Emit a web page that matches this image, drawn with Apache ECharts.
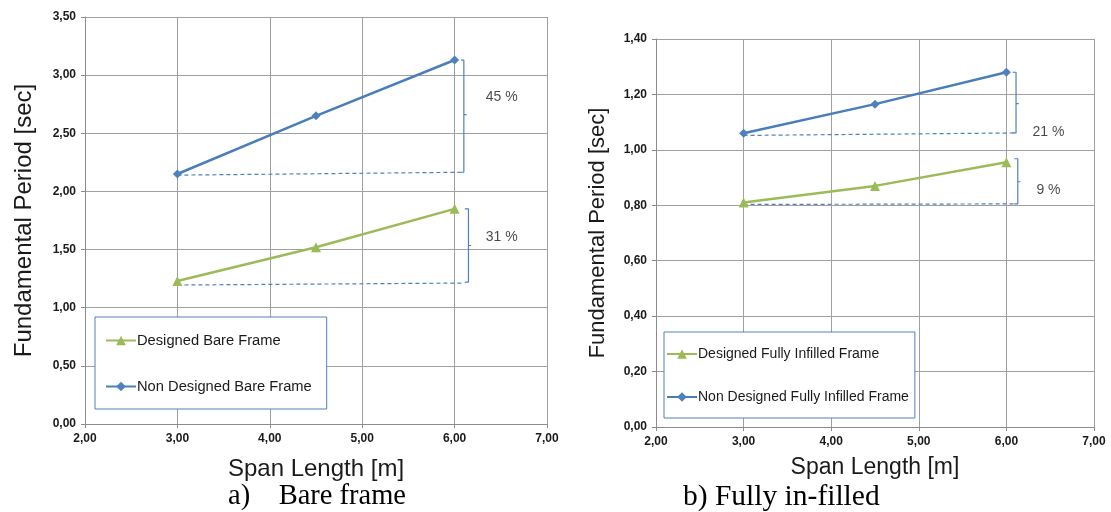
<!DOCTYPE html>
<html>
<head>
<meta charset="utf-8">
<script src="https://cdn.jsdelivr.net/npm/echarts@6/dist/echarts.min.js"></script>
<style>
html,body{margin:0;padding:0;background:#fff;}
#chart{width:1111px;height:512px;}
</style>
</head>
<body>
<div id="chart"></div>
<script>
// ---- data ----
const spans = [3.0, 4.5, 6.0];
const bareDesigned = [1.23, 1.52, 1.85];
const bareNonDesigned = [2.15, 2.65, 3.13];
const infillDesigned = [0.81, 0.87, 0.955];
const infillNonDesigned = [1.06, 1.165, 1.28];

const xTicks = [2, 3, 4, 5, 6, 7];
const bareYTicks = [0, 0.5, 1.0, 1.5, 2.0, 2.5, 3.0, 3.5];
const infillYTicks = [0, 0.2, 0.4, 0.6, 0.8, 1.0, 1.2, 1.4];

// annotation reference lines (dashed) and brackets, in data units
const bareRefNonDesigned = [[3.0, 2.14], [6.1, 2.165]];
const bareRefDesigned = [[3.0, 1.195], [6.1, 1.212]];
const bareBracketNonDesigned = [[6.07, 3.13], [6.10, 3.13], [6.10, 2.66], [6.13, 2.66], [6.10, 2.66], [6.10, 2.165], [6.07, 2.165]];
const bareBracketDesigned = [[6.11, 1.85], [6.15, 1.85], [6.15, 1.535], [6.18, 1.535], [6.15, 1.535], [6.15, 1.22], [6.11, 1.22]];
const bareLabels = [['45 %', 6.51, 2.81], ['31 %', 6.51, 1.61]];

const infillRefNonDesigned = [[3.0, 1.052], [6.1, 1.061]];
const infillRefDesigned = [[3.0, 0.803], [6.1, 0.805]];
const infillBracketNonDesigned = [[6.07, 1.28], [6.11, 1.28], [6.11, 1.167], [6.14, 1.167], [6.11, 1.167], [6.11, 1.061], [6.07, 1.061]];
const infillBracketDesigned = [[6.09, 0.968], [6.13, 0.968], [6.13, 0.885], [6.16, 0.885], [6.13, 0.885], [6.13, 0.805], [6.09, 0.805]];
const infillLabels = [['21 %', 6.48, 1.064], ['9 %', 6.48, 0.856]];

const names = {
  bareD: 'Designed Bare Frame',
  bareN: 'Non Designed Bare Frame',
  infD: 'Designed Fully Infilled Frame',
  infN: 'Non Designed Fully Infilled Frame'
};

// ---- styles ----
const BLUE = '#4a7ebb';
const BLUE_M = '#4f81bd';
const GREEN = '#9bbb59';
const GRID_C = '#a0a0a0';
const AXIS_C = '#8c8c8c';
const TXT = '#1a1a1a';
const FONT = 'Liberation Sans, Arial, sans-serif';
const SERIF = 'Liberation Serif, Times New Roman, serif';

const fmt = v => v.toFixed(2).replace('.', ',');
const pairs = ys => spans.map((x, i) => [x, ys[i]]);

function xAxis(gridIndex, gap, fs) {
  return {
    type: 'value', gridIndex, min: xTicks[0], max: xTicks[xTicks.length - 1], interval: 1,
    name: 'Span Length [m]', nameLocation: 'middle', nameGap: gap,
    nameTextStyle: { fontSize: fs, color: TXT, fontFamily: FONT },
    axisLine: { show: true, lineStyle: { color: AXIS_C, width: 1 } },
    axisTick: { show: true, inside: false, length: 4, lineStyle: { color: AXIS_C } },
    axisLabel: { formatter: fmt, fontSize: 12, fontWeight: 'bold', color: TXT, fontFamily: FONT, margin: 9 },
    splitLine: { show: true, lineStyle: { color: GRID_C, width: 1 } }
  };
}
function yAxis(gridIndex, ticks, gap, fs) {
  return {
    type: 'value', gridIndex, min: ticks[0], max: ticks[ticks.length - 1], interval: ticks[1] - ticks[0],
    name: 'Fundamental Period [sec]', nameLocation: 'middle', nameGap: gap, nameRotate: 90,
    nameTextStyle: { fontSize: fs, color: TXT, fontFamily: FONT },
    axisLine: { show: true, lineStyle: { color: AXIS_C, width: 1 } },
    axisTick: { show: true, inside: false, length: 4, lineStyle: { color: AXIS_C } },
    axisLabel: { formatter: fmt, fontSize: 12, fontWeight: 'bold', color: TXT, fontFamily: FONT, margin: 9 },
    splitLine: { show: true, lineStyle: { color: GRID_C, width: 1 } }
  };
}
function mainSeries(name, ys, idx, color, mcolor, symbol, size) {
  return {
    type: 'line', name, xAxisIndex: idx, yAxisIndex: idx, data: pairs(ys),
    symbol, symbolSize: size, showSymbol: true,
    lineStyle: { color, width: 2.5 }, itemStyle: { color: mcolor }, z: 5
  };
}
function refLine(data, idx) {
  return {
    type: 'line', xAxisIndex: idx, yAxisIndex: idx, data, symbol: 'none', silent: true,
    lineStyle: { color: BLUE_M, width: 1.2, type: [4, 3] }, z: 3
  };
}
function bracket(data, idx) {
  return {
    type: 'line', xAxisIndex: idx, yAxisIndex: idx, data, symbol: 'none', silent: true,
    lineStyle: { color: BLUE_M, width: 1.2 }, z: 3
  };
}
function labels(list, idx) {
  return {
    type: 'scatter', xAxisIndex: idx, yAxisIndex: idx, symbolSize: 0, silent: true,
    data: list.map(l => ({ name: l[0], value: [l[1], l[2]] })),
    label: { show: true, position: 'inside', formatter: p => p.name, fontSize: 14, color: TXT, fontFamily: FONT }
  };
}
function legend(left, top, data, pad, gap, fs) {
  return {
    show: true, orient: 'vertical', left, top, data,
    backgroundColor: '#fff', borderColor: BLUE_M, borderWidth: 1, borderRadius: 0,
    padding: pad, itemGap: gap, itemWidth: 30, itemHeight: 12,
    textStyle: { fontSize: fs, color: TXT, fontFamily: FONT, padding: [0, 0, 0, -4] },
    selectedMode: false
  };
}

const option = {
  animation: false,
  backgroundColor: '#fff',
  grid: [
    { left: 85, top: 17, width: 462, height: 407 },
    { left: 656, top: 39, width: 438, height: 388 }
  ],
  xAxis: [xAxis(0, 33, 24), xAxis(1, 29, 23)],
  yAxis: [yAxis(0, bareYTicks, 49, 24), yAxis(1, infillYTicks, 47, 22)],
  legend: [
    legend(95, 317, [names.bareD, names.bareN], [16, 15, 15, 10], 31, 14.7),
    legend(664, 332, [names.infD, names.infN], [15, 6, 14, 2], 29, 14)
  ],
  graphic: [
    { type: 'text', left: 228, top: 482, style: { text: 'a)    Bare frame', fontSize: 28.5, fill: '#000', fontFamily: SERIF } },
    { type: 'text', left: 683, top: 482, style: { text: 'b) Fully in-filled', fontSize: 29.5, fill: '#000', fontFamily: SERIF } }
  ],
  series: [
    refLine(bareRefNonDesigned, 0), refLine(bareRefDesigned, 0),
    bracket(bareBracketNonDesigned, 0), bracket(bareBracketDesigned, 0),
    labels(bareLabels, 0),
    mainSeries(names.bareD, bareDesigned, 0, GREEN, GREEN, 'triangle', 10),
    mainSeries(names.bareN, bareNonDesigned, 0, BLUE, BLUE_M, 'diamond', 9),
    refLine(infillRefNonDesigned, 1), refLine(infillRefDesigned, 1),
    bracket(infillBracketNonDesigned, 1), bracket(infillBracketDesigned, 1),
    labels(infillLabels, 1),
    mainSeries(names.infD, infillDesigned, 1, GREEN, GREEN, 'triangle', 10),
    mainSeries(names.infN, infillNonDesigned, 1, BLUE, BLUE_M, 'diamond', 9)
  ]
};

const chart = echarts.init(document.getElementById('chart'), null, { renderer: 'canvas' });
chart.setOption(option);
</script>
</body>
</html>
